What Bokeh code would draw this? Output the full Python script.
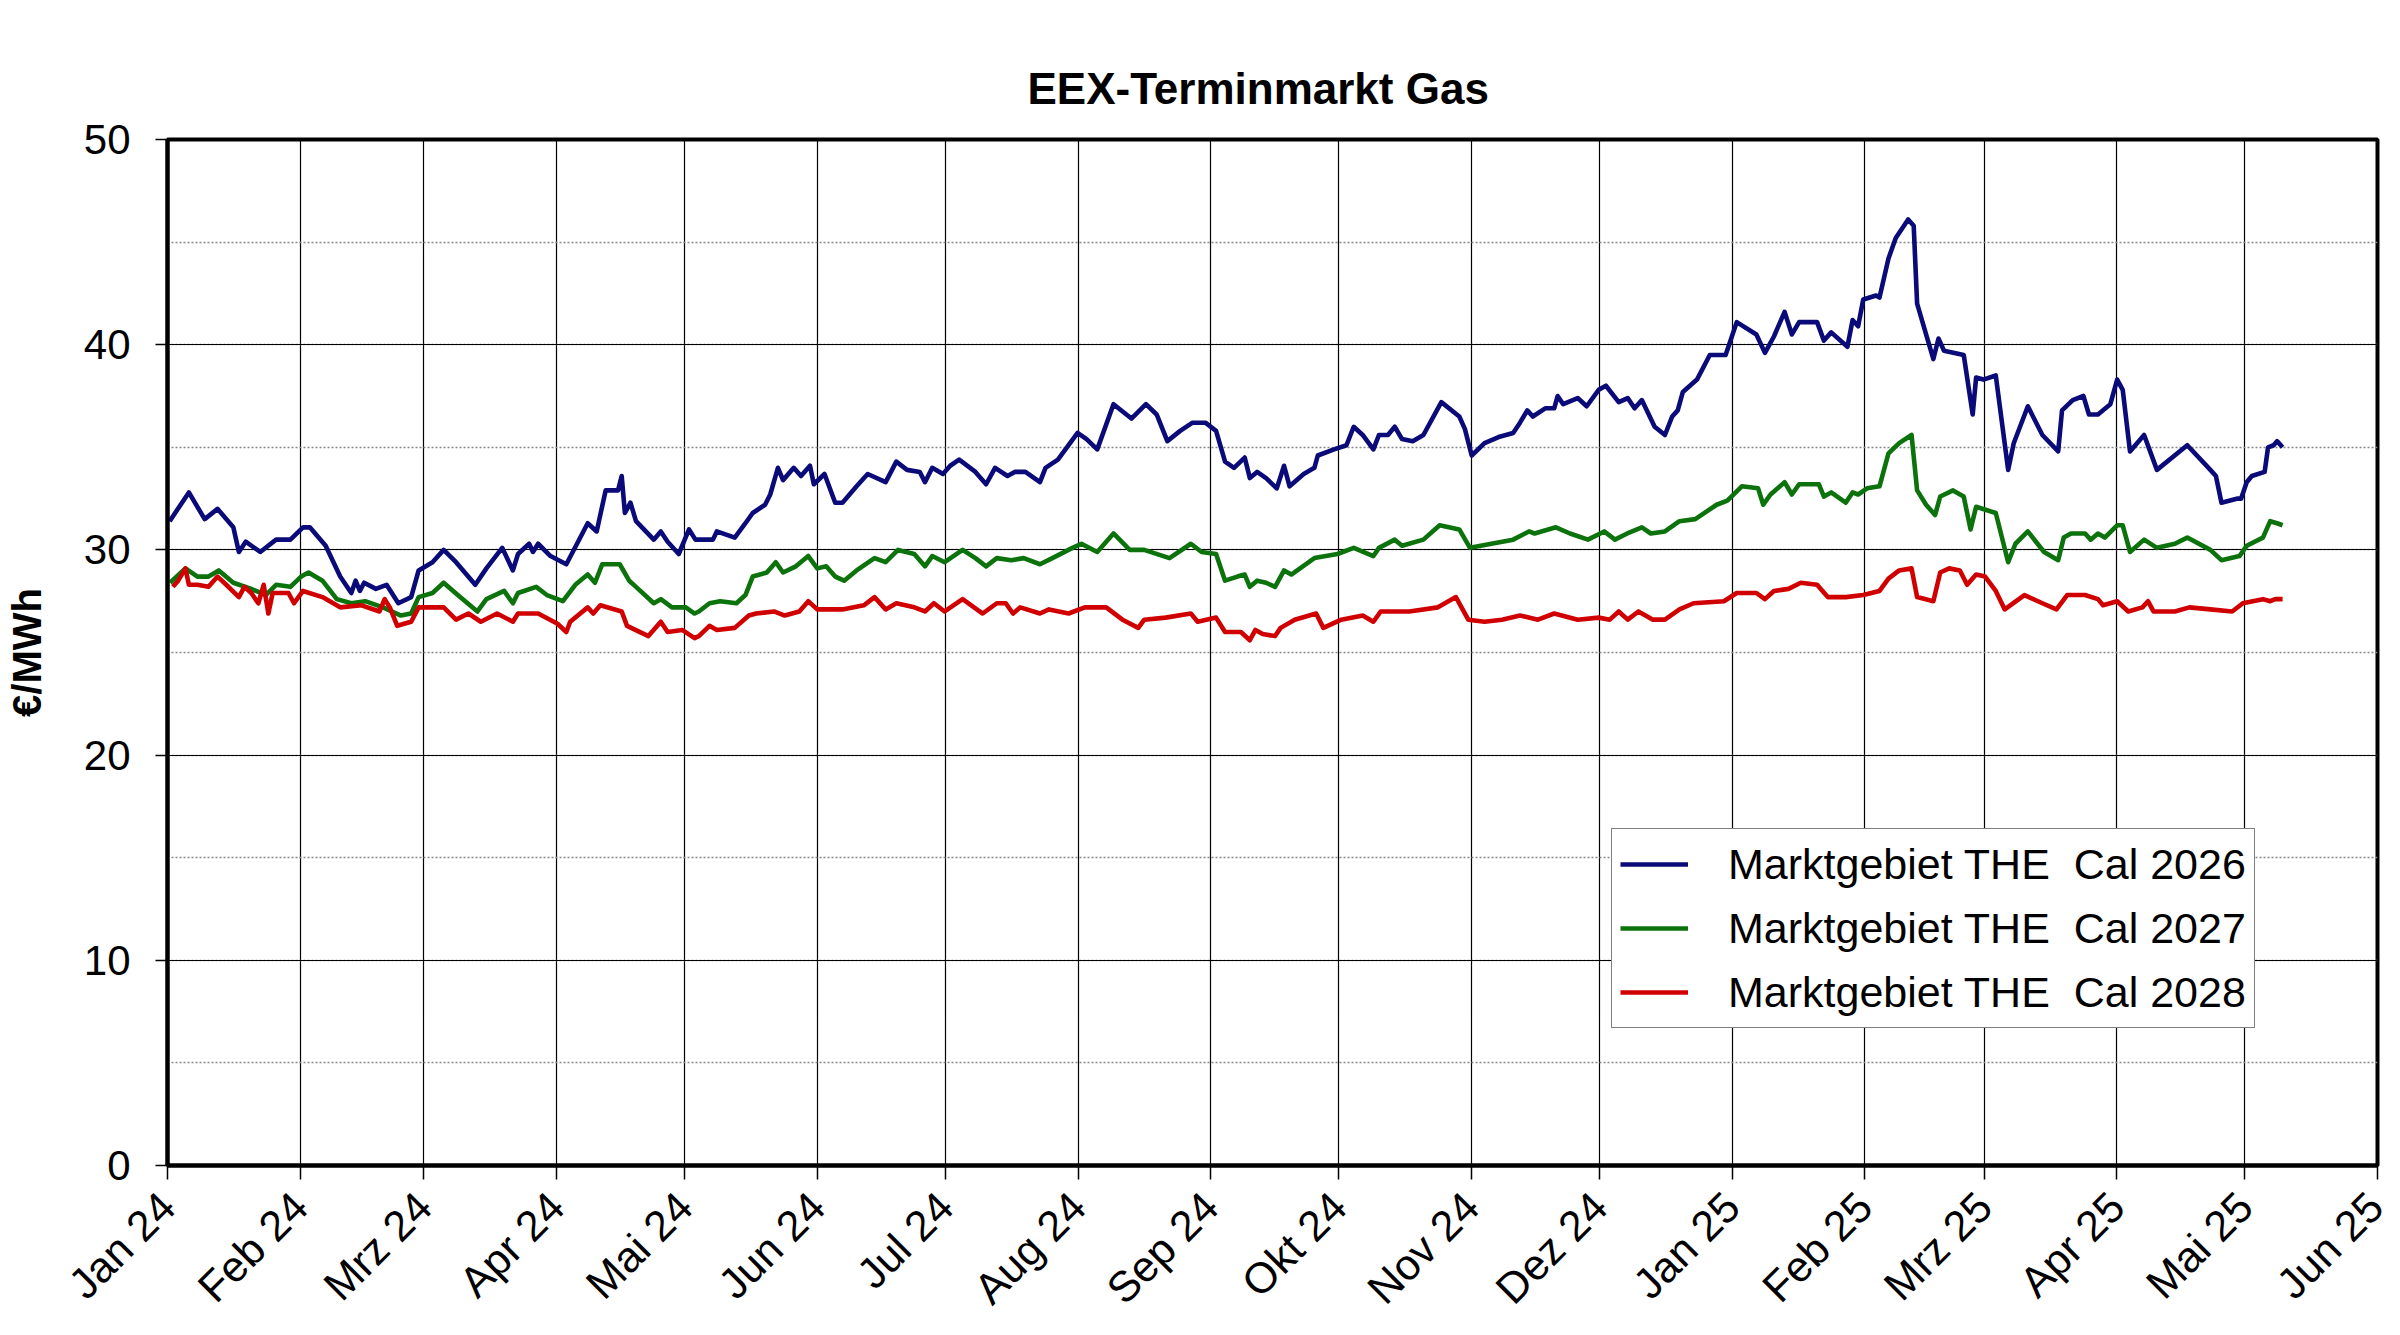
import math
import pandas as pd
from bokeh.plotting import figure
from bokeh.models import FixedTicker, SingleIntervalTicker, Legend, LegendItem, Range1d
from bokeh.embed import file_html
from bokeh.resources import INLINE

# ---- data (day offsets from 2024-01-01, values in EUR/MWh) ----
start_date = "2024-01-01"
end_date = "2025-06-01"
month_labels = ["Jan 24", "Feb 24", "Mrz 24", "Apr 24", "Mai 24", "Jun 24", "Jul 24", "Aug 24",
                "Sep 24", "Okt 24", "Nov 24", "Dez 24", "Jan 25", "Feb 25", "Mrz 25", "Apr 25",
                "Mai 25", "Jun 25"]

series_names = ["Marktgebiet THE  Cal 2026", "Marktgebiet THE  Cal 2027", "Marktgebiet THE  Cal 2028"]

cal26_day = [0.5, 5, 8.7, 11.7, 15.4, 16.7, 18.3, 21.7, 25.4, 28.75, 31.7, 33.3, 37, 40.4, 43, 44, 45, 46,
             48.75, 51.25, 54, 57, 58.75, 62, 64.6, 67.5, 72, 74.6, 78.3, 80.8, 82, 84.6, 85.5, 86.7, 89.6,
             93.3, 95.8, 98.3, 100.4, 102.5, 105.4, 106.25, 107, 108.3, 109.6, 113.75, 115.4, 117, 119.6,
             122, 123.5, 127.6, 128.5, 132.7, 135.2, 136.9, 139.8, 141, 142.8, 144, 146.5, 148.2, 150.3,
             151.2, 153.7, 156.2, 157.9, 161.2, 163.8, 168, 170.5, 173, 176, 177.2, 178.9, 181.4, 183.1,
             185.2, 189, 191.5, 193.6, 196.5, 198.2, 200.7, 204.1, 205.4, 208.3, 212.9, 215, 217.5, 221.3,
             225.5, 228.9, 231.4, 233.9, 236.9, 239.8, 242.8, 245.3, 247.4, 249.5, 252, 253.2, 254.9, 257,
             259.5, 261.2, 262.5, 265.8, 268.3, 269.1, 272.9, 275.8, 277.5, 279.6, 282.1, 283.4, 285.5,
             287.1, 288.8, 291.3, 293.8, 298, 302.2, 303.5, 305.1, 308.1, 311.4, 314.8, 316.4, 318.1,
             319.4, 322.3, 324.4, 325.2, 326.5, 329.9, 332, 334.8, 336.5, 339.5, 341.6, 343.2, 344.9,
             347.9, 350.3, 352, 353.3, 354.5, 357.8, 360.8, 364.5, 367.1, 371.7, 373.7, 375.8, 378.3, 380,
             381.7, 385.9, 387.5, 389.2, 393, 394.2, 395.5, 396.7, 399.7, 400.5, 402.6, 404.3, 407.2,
             408.5, 409.3, 411.4, 413.1, 414.3, 415.6, 420.2, 422.3, 423.1, 424.8, 427.7, 430.6, 431.9,
             435.2, 438.6, 442.3, 443.2, 445.7, 448.2, 449.5, 451.6, 454.5, 456.1, 457.4, 459.1, 462.4,
             465.4, 472.5, 477.9, 479.2, 480.5, 484.3, 485.1, 486.4, 487.6, 490.6, 491.4, 492.7, 493.5,
             494.8]
cal26_val = [31.4, 32.8, 31.5, 32.0, 31.1, 29.9, 30.4, 29.9, 30.5, 30.5, 31.1, 31.1, 30.2, 28.7, 27.9, 28.5,
             28.0, 28.4, 28.1, 28.3, 27.4, 27.7, 29.0, 29.4, 30.0, 29.4, 28.3, 29.1, 30.1, 29.0, 29.8, 30.3,
             29.9, 30.3, 29.7, 29.3, 30.3, 31.3, 30.9, 32.9, 32.9, 33.6, 31.8, 32.3, 31.4, 30.5, 30.9, 30.4,
             29.8, 31.0, 30.5, 30.5, 30.9, 30.6, 31.3, 31.8, 32.2, 32.7, 34.0, 33.4, 34.0, 33.6, 34.1, 33.2,
             33.7, 32.3, 32.3, 33.1, 33.7, 33.3, 34.3, 33.9, 33.8, 33.3, 34.0, 33.7, 34.1, 34.4, 33.8, 33.2,
             34.0, 33.6, 33.8, 33.8, 33.3, 34.0, 34.4, 35.7, 35.4, 34.9, 37.1, 36.4, 37.1, 36.6, 35.3, 35.8,
             36.2, 36.2, 35.8, 34.3, 34.0, 34.5, 33.5, 33.8, 33.5, 33.0, 34.1, 33.1, 33.7, 34.0, 34.6, 34.9,
             35.1, 36.0, 35.6, 34.9, 35.6, 35.6, 36.0, 35.4, 35.3, 35.6, 37.2, 36.5, 35.9, 34.6, 35.2, 35.5,
             35.7, 36.2, 36.8, 36.5, 36.9, 36.9, 37.5, 37.1, 37.4, 37.0, 37.8, 38.0, 37.2, 37.4, 36.9, 37.3,
             36.0, 35.6, 36.5, 36.8, 37.7, 38.3, 39.5, 39.5, 41.1, 40.5, 39.6, 40.4, 41.6, 40.5, 41.1, 41.1,
             40.2, 40.6, 39.9, 41.2, 40.9, 42.2, 42.4, 42.3, 44.2, 45.2, 46.1, 45.8, 42.0, 40.5, 39.3, 40.3,
             39.7, 39.5, 36.6, 38.4, 38.3, 38.5, 33.9, 35.2, 37.0, 35.6, 34.8, 36.8, 37.3, 37.5, 36.6, 36.6,
             37.1, 38.3, 37.8, 34.8, 35.6, 33.9, 35.1, 33.9, 33.6, 32.3, 32.5, 32.5, 33.3, 33.6, 33.8, 35.0,
             35.1, 35.3, 35.0]

cal27_day = [0.6, 4.2, 7, 9.6, 12, 15.4, 19.6, 23, 25.4, 28.75, 31.25, 33, 36.25, 39.6, 43, 46.25, 50.4,
             54.6, 57, 58.75, 62, 64.6, 67.9, 72.5, 74.6, 78.75, 80.8, 82, 86.25, 88.75, 92.5, 95.4, 98.3,
             100, 101.7, 105.8, 108, 109.6, 113.75, 115.4, 118, 121.25, 123.3, 124.3, 126.8, 129.3, 133.1,
             135.2, 136.9, 140.2, 142.3, 144, 147, 149.9, 152, 154.1, 156.2, 158.3, 161.2, 165.4, 168,
             170.9, 174.7, 177.2, 178.9, 181.8, 186, 189, 191.5, 194, 197.4, 200.3, 204.1, 207, 211.7,
             213.8, 217.5, 221.3, 225.1, 228.5, 234.4, 239.4, 241.9, 245.3, 247.4, 250.3, 252, 253.2,
             254.9, 257, 259.1, 261.2, 262.9, 268.3, 273.7, 277.5, 282.1, 283.4, 287.1, 288.8, 293.8,
             297.6, 302.2, 304.7, 309.7, 314.8, 318.5, 319.8, 324.8, 328.1, 332.3, 336.1, 338.6, 341.5,
             344.9, 347, 350.3, 353.7, 357.4, 362.4, 364.9, 368.3, 372.1, 373.3, 375, 378.3, 380, 381.7,
             386.3, 387.5, 389.2, 392.6, 394.2, 395.5, 397.6, 400.5, 402.6, 405.1, 408, 409.3, 411.4,
             413.5, 414.7, 417.7, 420.2, 421.8, 423.1, 427.7, 430.6, 432.3, 435.2, 439, 442.3, 443.6,
             445.3, 448.6, 449.9, 451.6, 453.2, 456.1, 457.4, 459.1, 462.4, 465.4, 469.6, 472.5, 477.9,
             480.5, 484.7, 486.4, 490.2, 491.9, 493.5, 494.8]
cal27_val = [28.4, 29.1, 28.7, 28.7, 29.0, 28.4, 28.1, 27.8, 28.3, 28.2, 28.7, 28.9, 28.5, 27.6, 27.4, 27.5,
             27.2, 26.8, 26.9, 27.7, 27.9, 28.4, 27.8, 27.0, 27.6, 28.0, 27.4, 27.9, 28.2, 27.8, 27.5, 28.3,
             28.8, 28.4, 29.3, 29.3, 28.5, 28.2, 27.4, 27.6, 27.2, 27.2, 26.9, 27.0, 27.4, 27.5, 27.4, 27.8,
             28.7, 28.9, 29.4, 28.9, 29.2, 29.7, 29.1, 29.2, 28.7, 28.5, 29.0, 29.6, 29.4, 30.0, 29.8, 29.2,
             29.7, 29.4, 30.0, 29.6, 29.2, 29.6, 29.5, 29.6, 29.3, 29.6, 30.1, 30.3, 29.9, 30.8, 30.0, 30.0,
             29.6, 30.3, 29.9, 29.8, 28.5, 28.7, 28.8, 28.2, 28.5, 28.4, 28.2, 29.0, 28.8, 29.6, 29.8, 30.1,
             29.7, 30.1, 30.5, 30.2, 30.5, 31.2, 31.0, 30.1, 30.3, 30.5, 30.9, 30.8, 31.1, 30.8, 30.5, 30.9,
             30.5, 30.8, 31.1, 30.8, 30.9, 31.4, 31.5, 32.2, 32.4, 33.1, 33.0, 32.2, 32.7, 33.3, 32.7, 33.2,
             33.2, 32.6, 32.8, 32.3, 32.8, 32.7, 33.0, 33.1, 34.7, 35.2, 35.6, 32.9, 32.2, 31.7, 32.6, 32.9,
             32.6, 31.0, 32.1, 31.8, 29.4, 30.3, 30.9, 29.9, 29.5, 30.6, 30.8, 30.8, 30.5, 30.8, 30.6, 31.2,
             31.2, 29.9, 30.5, 30.1, 30.3, 30.6, 30.0, 29.5, 29.7, 30.2, 30.6, 31.4, 31.3, 31.2]

cal28_day = [1.25, 2.5, 4.2, 5, 7, 9.6, 11.7, 13.75, 16.7, 18, 19.6, 21.25, 22.5, 23.6, 24.6, 28.3, 29.6,
             31.7, 36.25, 40.4, 45.4, 49.6, 50.8, 52, 53.75, 57, 58.75, 64.6, 67.5, 70.4, 73.3, 77.1, 80.8,
             82, 86.7, 91.25, 93.3, 94.2, 98.3, 99.6, 101.25, 106.25, 107.5, 112.5, 115.4, 117, 120.4,
             123.3, 124.3, 126.8, 128.5, 132.7, 136, 137.7, 141.9, 144.4, 147.8, 149.9, 152, 157.9, 162.9,
             165.4, 168, 170.5, 174.7, 177.2, 179.3, 181.8, 186, 190.7, 194, 196.1, 197.8, 199.5, 204.1,
             206.2, 210.8, 214.6, 219.6, 223.4, 227.1, 228.5, 233.5, 239.4, 241, 245.3, 247.4, 251.1,
             253.2, 254.5, 256.2, 259.1, 260.4, 263.7, 268.7, 270.4, 274.6, 279.6, 282.1, 283.8, 290.5,
             297.2, 301.4, 304.3, 308.1, 312.2, 316.4, 320.6, 324.4, 329.9, 334.8, 337.4, 339.5, 341.6,
             344.1, 347.5, 350.3, 353.7, 357, 364.1, 367.1, 371.7, 373.7, 375.8, 379.2, 382.1, 385.9,
             388.4, 392.6, 396.7, 400.5, 402.6, 405.1, 408, 409.3, 413.1, 414.7, 416.8, 419.3, 421, 423.1,
             425.2, 427.7, 429.8, 434.4, 438.6, 441.9, 444.4, 448.6, 451.6, 452.8, 456.1, 458.7, 462,
             463.3, 464.6, 469.6, 473, 477.9, 483, 485.5, 490.2, 491.9, 493.1, 494.8]
cal28_val = [28.2, 28.5, 29.1, 28.3, 28.3, 28.2, 28.7, 28.3, 27.7, 28.2, 27.9, 27.4, 28.3, 26.9, 27.9, 27.9,
             27.4, 28.0, 27.7, 27.2, 27.3, 27.0, 27.6, 27.2, 26.3, 26.5, 27.2, 27.2, 26.6, 26.9, 26.5, 26.9,
             26.5, 26.9, 26.9, 26.4, 26.0, 26.5, 27.2, 26.9, 27.3, 27.0, 26.3, 25.8, 26.5, 26.0, 26.1, 25.7,
             25.8, 26.3, 26.1, 26.2, 26.8, 26.9, 27.0, 26.8, 27.0, 27.5, 27.1, 27.1, 27.3, 27.7, 27.1, 27.4,
             27.2, 27.0, 27.4, 27.0, 27.6, 26.9, 27.4, 27.4, 26.9, 27.2, 26.9, 27.1, 26.9, 27.2, 27.2, 26.6,
             26.2, 26.6, 26.7, 26.9, 26.5, 26.7, 26.0, 26.0, 25.6, 26.1, 25.9, 25.8, 26.2, 26.6, 26.9, 26.2,
             26.6, 26.8, 26.5, 27.0, 27.0, 27.2, 27.7, 26.6, 26.5, 26.6, 26.8, 26.6, 26.9, 26.6, 26.7, 26.6,
             27.0, 26.6, 27.0, 26.6, 26.6, 27.1, 27.4, 27.5, 27.9, 27.9, 27.6, 28.0, 28.1, 28.4, 28.3, 27.7,
             27.7, 27.8, 28.0, 28.6, 29.0, 29.1, 27.7, 27.5, 28.9, 29.1, 29.0, 28.3, 28.8, 28.7, 28.0, 27.1,
             27.8, 27.4, 27.1, 27.8, 27.8, 27.6, 27.3, 27.5, 27.0, 27.2, 27.5, 27.0, 27.0, 27.2, 27.1, 27.0,
             27.4, 27.6, 27.5, 27.6, 27.6]

colors = ["#0a0a78", "#0c720c", "#d00000"]

# month tick positions (days from start)
month_starts = pd.date_range(start_date, end_date, freq="MS")
month_days = [int((d - pd.Timestamp(start_date)).days) for d in month_starts]
total_days = month_days[-1]

FONT = "Liberation Sans"

p = figure(width=2392, height=1333, output_backend="svg", toolbar_location=None,
           x_range=Range1d(0, total_days), y_range=Range1d(0, 50),
           min_border_left=167, min_border_right=15, min_border_top=139, min_border_bottom=168,
           background_fill_color="white", border_fill_color="white")

p.title.text = "EEX-Terminmarkt Gas"
p.title.align = "left"
p.title.offset = 860
p.title.text_font = FONT
p.title.text_font_size = "44px"
p.title.text_font_style = "bold"
p.title.text_color = "black"
p.title.standoff = 54

p.outline_line_color = "black"
p.outline_line_width = 4
p.outline_line_alpha = 1

# x axis
p.xaxis.ticker = FixedTicker(ticks=month_days)
p.xaxis.major_label_overrides = {d: lbl for d, lbl in zip(month_days, month_labels)}
p.xaxis.major_label_orientation = math.pi / 4
p.xaxis.major_label_text_font = FONT
p.xaxis.major_label_text_font_size = "43px"
p.xaxis.major_label_text_color = "black"
p.xaxis.major_label_standoff = 20
p.xaxis.major_tick_out = 14
p.xaxis.major_tick_in = 0
p.xaxis.major_tick_line_width = 1.5
p.xaxis.axis_line_width = 4
p.xaxis.axis_line_color = "black"

# y axis
p.yaxis.ticker = SingleIntervalTicker(interval=10, num_minor_ticks=2)
p.yaxis.major_label_text_font = FONT
p.yaxis.major_label_text_font_size = "42px"
p.yaxis.major_label_text_color = "black"
p.yaxis.major_label_standoff = 25
p.yaxis.major_tick_out = 12
p.yaxis.major_tick_in = 0
p.yaxis.major_tick_line_width = 1.5
p.yaxis.minor_tick_out = 0
p.yaxis.minor_tick_in = 0
p.yaxis.axis_line_width = 4
p.yaxis.axis_line_color = "black"
p.yaxis.axis_label = "€/MWh"
p.yaxis.axis_label_text_font = FONT
p.yaxis.axis_label_text_font_size = "40px"
p.yaxis.axis_label_text_font_style = "bold"
p.yaxis.axis_label_text_color = "black"
p.yaxis.axis_label_standoff = 32

# grids
p.xgrid.grid_line_color = "black"
p.xgrid.grid_line_width = 1.2
p.ygrid.grid_line_color = "black"
p.ygrid.grid_line_width = 1.2
p.ygrid.minor_grid_line_color = "#888888"
p.ygrid.minor_grid_line_width = 1.5
p.ygrid.minor_grid_line_dash = "2 2"

renderers = []
for days, vals, col in [(cal26_day, cal26_val, colors[0]),
                        (cal27_day, cal27_val, colors[1]),
                        (cal28_day, cal28_val, colors[2])]:
    r = p.line(days, vals, line_color=col, line_width=4.6, line_join="round")
    renderers.append(r)

legend = Legend(items=[LegendItem(label=n, renderers=[r]) for n, r in zip(series_names, renderers)],
                location=(1444, 137))
legend.label_text_font = FONT
legend.label_text_font_size = "43px"
legend.label_text_color = "black"
legend.border_line_color = "black"
legend.border_line_width = 1.5
legend.background_fill_color = "white"
legend.background_fill_alpha = 1.0
legend.glyph_width = 68
legend.glyph_height = 20
legend.label_standoff = 40
legend.padding = 8
legend.spacing = 10
legend.label_height = 54
legend.margin = 0
p.add_layout(legend)

open("out.html", "w").write(file_html(p, INLINE))
